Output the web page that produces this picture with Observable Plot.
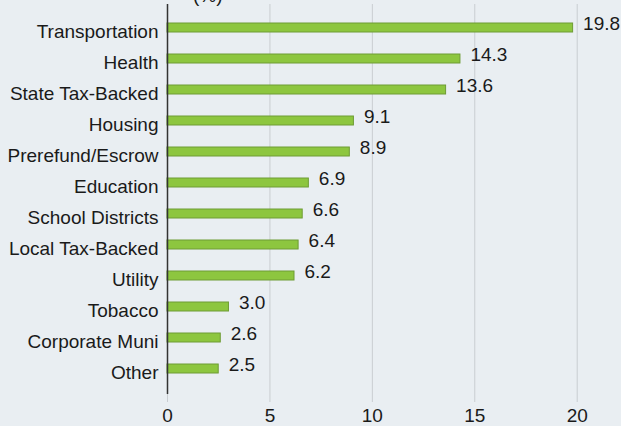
<!DOCTYPE html>
<html>
<head>
<meta charset="utf-8">
<script src="https://cdn.jsdelivr.net/npm/d3@7"></script>
<script src="https://cdn.jsdelivr.net/npm/@observablehq/plot@0.6"></script>
<style>
  html, body { margin: 0; padding: 0; background: #e9eef2; overflow: hidden; }
  #wrap { position: relative; width: 621px; height: 426px; overflow: hidden; }
  #title { position: absolute; left: 193px; top: -15px; font: 19px "Liberation Sans", Arial, sans-serif; color: #1a1a1a; white-space: nowrap; }
  svg { display: block; }
</style>
</head>
<body>
<div id="wrap"><div id="title">(%)</div></div>
<script>
const categories = ["Transportation", "Health", "State Tax-Backed", "Housing", "Prerefund/Escrow", "Education", "School Districts", "Local Tax-Backed", "Utility", "Tobacco", "Corporate Muni", "Other"];
const values = [19.8, 14.3, 13.6, 9.1, 8.9, 6.9, 6.6, 6.4, 6.2, 3.0, 2.6, 2.5];
const xTicks = [0, 5, 10, 15, 20];

const data = categories.map((c, i) => ({category: c, value: values[i]}));

const chart = Plot.plot({
  width: 621,
  height: 426,
  marginLeft: 167,
  marginRight: 0,
  marginTop: 4,
  marginBottom: 32,
  style: {background: "#e9eef2", fontFamily: "'Liberation Sans', Arial, sans-serif", fontSize: "19px", color: "#1a1a1a", overflow: "visible"},
  x: {domain: [0, 20], range: [167, 576.7]},
  y: {domain: categories, range: [8.7, 388], paddingInner: 0.715, paddingOuter: 0.3575},
  marks: [
    Plot.gridX(xTicks, {stroke: "#c9cdd1", strokeOpacity: 1, strokeWidth: 1}),
    Plot.axisX({ticks: xTicks, tickSize: 8, tickPadding: 6, stroke: "#c9cdd1", fill: "#1a1a1a", fontSize: 19, label: null}),
    Plot.axisY({tickSize: 0, tickPadding: 9, dy: 4, fill: "#1a1a1a", fontSize: 19, label: null}),
    Plot.barX(data, {x: "value", y: "category", fill: "#8dc63f", stroke: "#6e9c34", strokeWidth: 1}),
    Plot.ruleX([0], {stroke: "#333333", strokeWidth: 1.5}),
    Plot.text(data, {x: "value", y: "category", text: d => d.value.toFixed(1), dx: 10, dy: -4, textAnchor: "start", fontSize: 19, fill: "#1a1a1a"})
  ]
});
document.getElementById("wrap").appendChild(chart);
</script>
</body>
</html>
